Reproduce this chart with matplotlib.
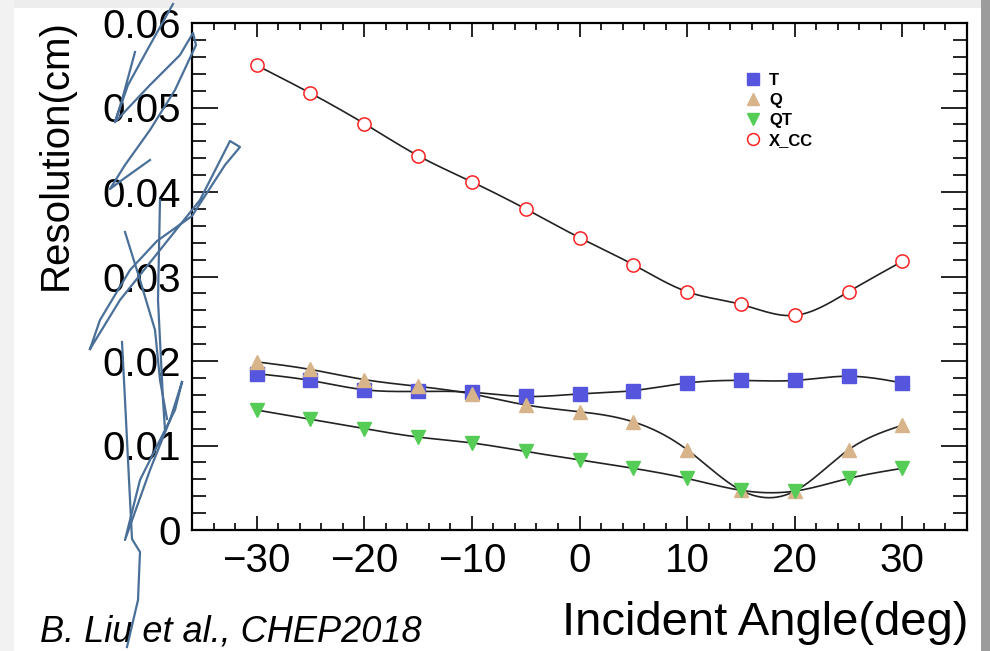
import numpy as np
import matplotlib
matplotlib.use("Agg")
import matplotlib.pyplot as plt
from matplotlib.lines import Line2D
from matplotlib.patches import Rectangle
from matplotlib.ticker import MultipleLocator

plt.rcParams['font.family'] = ['Liberation Sans', 'DejaVu Sans']

angles = [-30, -25, -20, -15, -10, -5, 0, 5, 10, 15, 20, 25, 30]
res_T = [0.0185, 0.0177, 0.0166, 0.0164, 0.0163, 0.0158, 0.0161, 0.0165, 0.0174, 0.0177, 0.0177, 0.0182, 0.0174]
res_Q = [0.0199, 0.0190, 0.0178, 0.0170, 0.0161, 0.0148, 0.0140, 0.0128, 0.0095, 0.0047, 0.0046, 0.0095, 0.0124]
res_QT = [0.0142, 0.0131, 0.0120, 0.0110, 0.0103, 0.0093, 0.0083, 0.0073, 0.0061, 0.0047, 0.0046, 0.0061, 0.0073]
res_XCC = [0.0550, 0.0517, 0.0481, 0.0443, 0.0412, 0.0380, 0.0346, 0.0314, 0.0282, 0.0267, 0.0254, 0.0282, 0.0318]

x_ticks = [-30, -20, -10, 0, 10, 20, 30]
x_ticklabels = ['\u221230', '\u221220', '\u221210', '0', '10', '20', '30']
y_ticks = [0, 0.01, 0.02, 0.03, 0.04, 0.05, 0.06]
y_ticklabels = ['0', '0.01', '0.02', '0.03', '0.04', '0.05', '0.06']

series = [
    ("T", res_T, 's', '#5555dd', True),
    ("Q", res_Q, '^', '#d8b48a', True),
    ("QT", res_QT, 'v', '#55cc55', True),
    ("X_CC", res_XCC, 'o', '#ff2222', False),
]


def natural_spline(x, y, n=500):
    x = np.asarray(x, float)
    y = np.asarray(y, float)
    nn = len(x)
    h = np.diff(x)
    A = np.zeros((nn, nn))
    b = np.zeros(nn)
    A[0, 0] = A[-1, -1] = 1
    for i in range(1, nn - 1):
        A[i, i - 1] = h[i - 1]
        A[i, i] = 2 * (h[i - 1] + h[i])
        A[i, i + 1] = h[i]
        b[i] = 3 * ((y[i + 1] - y[i]) / h[i] - (y[i] - y[i - 1]) / h[i - 1])
    c = np.linalg.solve(A, b)
    xs = np.linspace(x[0], x[-1], n)
    idx = np.clip(np.searchsorted(x, xs) - 1, 0, nn - 2)
    dx = xs - x[idx]
    bc = (y[1:] - y[:-1]) / h - h * (2 * c[:-1] + c[1:]) / 3
    dc = (c[1:] - c[:-1]) / (3 * h)
    ys = y[idx] + bc[idx] * dx + c[idx] * dx ** 2 + dc[idx] * dx ** 3
    return xs, ys


W, H = 990, 651
fig = plt.figure(figsize=(W / 100, H / 100), dpi=100)
fig.patch.set_facecolor('white')

# page border shading
fig.add_artist(Rectangle((0, 1 - 8 / H), 1, 8 / H, transform=fig.transFigure,
                         facecolor='#ededed', edgecolor='none', zorder=0))
fig.add_artist(Rectangle((0, 0), 14 / W, 1, transform=fig.transFigure,
                         facecolor='#f2f2f2', edgecolor='none', zorder=0))
fig.add_artist(Rectangle((981 / W, 0), 9 / W, 1, transform=fig.transFigure,
                         facecolor='#9c9c9c', edgecolor='none', zorder=0))

ax = fig.add_axes([192 / W, 1 - 530 / H, 775 / W, 507 / H])

for name, vals, mk, col, filled in series:
    xs, ys = natural_spline(angles, vals)
    ax.plot(xs, ys, color='#222222', lw=1.2, zorder=2)
    if filled:
        ax.plot(angles, vals, linestyle='none', marker=mk, ms=9.5 if mk == 's' else 10,
                mfc=col, mec=col, zorder=3, label=name)
    else:
        ax.plot(angles, vals, linestyle='none', marker=mk, ms=9.5,
                mfc='white', mec=col, mew=1.1, zorder=3, label=name)

ax.set_xticks(x_ticks)
ax.set_xticklabels(x_ticklabels)
ax.set_yticks(y_ticks)
ax.set_yticklabels(y_ticklabels)
ax.xaxis.set_minor_locator(MultipleLocator(2))
ax.yaxis.set_minor_locator(MultipleLocator(0.002))
ax.set_xlim(-36, 36)
ax.set_ylim(0, 0.06)

ax.tick_params(axis='both', which='both', direction='in', top=True, right=True,
               width=1.2, colors='black')
ax.tick_params(axis='x', which='major', length=10, pad=9, labelsize=29)
ax.tick_params(axis='x', which='minor', length=5)
ax.tick_params(axis='y', which='major', length=19, pad=8, labelsize=29)
ax.tick_params(axis='y', which='minor', length=10)
for s in ax.spines.values():
    s.set_linewidth(1.6)

leg = ax.legend(loc='upper left', bbox_to_anchor=(0.703, 0.918), frameon=False,
                prop={'size': 12, 'weight': 'bold'}, handlelength=0.9,
                handletextpad=0.55, labelspacing=0.3, borderpad=0, markerscale=0.9)

fig.text(56 / W, 1 - 155 / H, 'Resolution(cm)', rotation=90, ha='center', va='center',
         fontsize=29)
fig.text(968 / W, 1 - 623 / H, 'Incident Angle(deg)', ha='right', va='center', fontsize=34)
fig.text(40 / W, 1 - 632 / H, 'B. Liu et al., CHEP2018', ha='left', va='center',
         fontsize=26, style='italic')

# hand-drawn scribble overlay
scribble = [
    [(173, 4), (150, 45), (128, 85), (115, 122), (122, 100), (135, 52)],
    [(115, 122), (150, 85), (180, 55), (193, 33), (196, 45), (175, 90), (150, 130),
     (125, 165), (110, 189), (122, 180), (150, 160)],
    [(90, 349), (120, 300), (160, 250), (200, 200), (230, 141), (240, 147), (225, 165),
     (192, 216), (157, 241), (130, 270), (100, 320), (90, 349)],
    [(125, 232), (140, 280), (155, 330), (160, 380), (167, 419)],
    [(160, 200), (158, 300), (163, 400), (165, 430)],
    [(122, 342), (125, 400), (128, 460), (132, 539), (140, 552), (138, 600), (127, 647)],
    [(182, 382), (175, 410), (160, 440), (140, 480), (125, 540), (150, 470), (170, 420),
     (182, 382)],
]
for pts in scribble:
    xs = [p[0] / W for p in pts]
    ys = [1 - p[1] / H for p in pts]
    fig.add_artist(Line2D(xs, ys, transform=fig.transFigure, color='#4a7099', lw=1.6,
                          zorder=10))

fig.savefig('out.png', dpi=100)
